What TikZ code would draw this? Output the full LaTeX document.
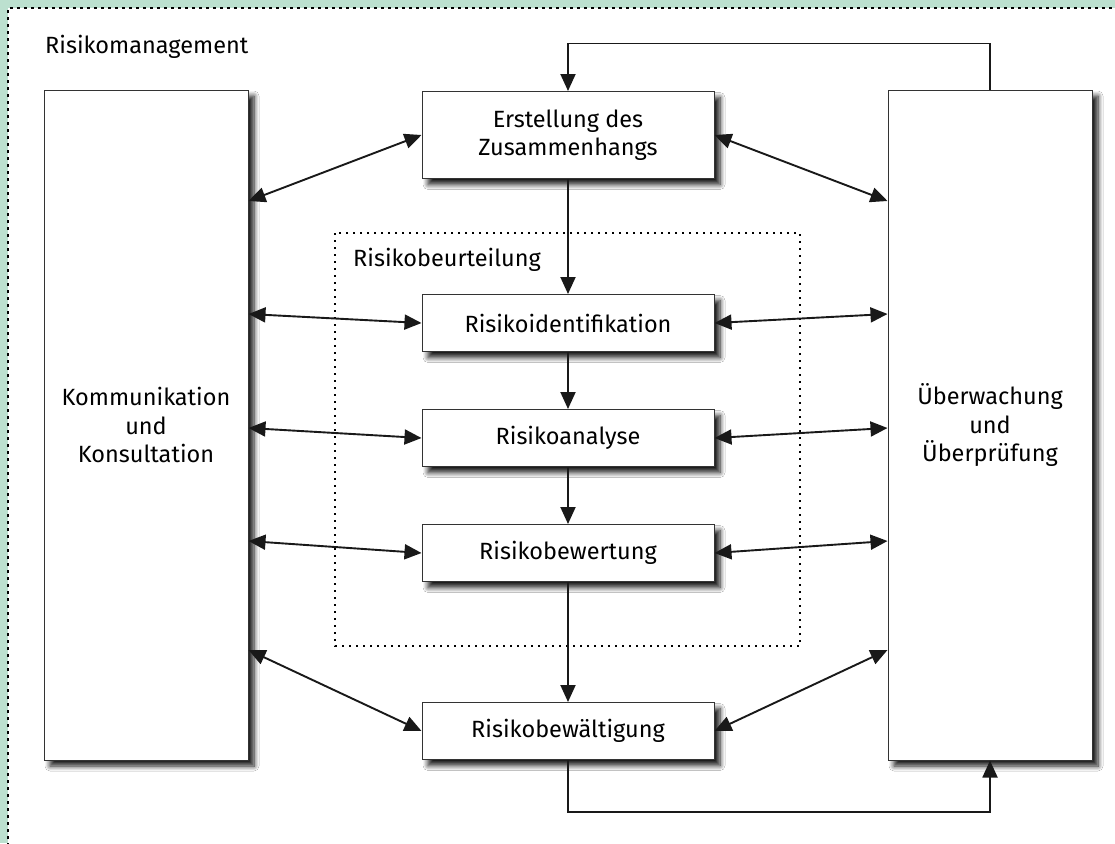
\documentclass[tikz,border=0pt]{standalone}
\usepackage{fontspec}
\setmainfont{Fira Sans}
\usetikzlibrary{arrows.meta, shadows.blur}

\definecolor{framegreen}{RGB}{188,224,207}

\tikzset{
  box/.style={draw=black!80, line width=1pt, fill=white, align=center,
    blur shadow={shadow xshift=6pt, shadow yshift=-6pt, shadow blur radius=5pt,
      shadow opacity=90, shadow blur steps=8}},
  stage/.style={box, minimum width=292pt, minimum height=57pt},
  pillar/.style={box, minimum width=204pt, minimum height=670pt},
  flow/.style={line width=1.9pt, black!90, -{Triangle[length=17pt, width=15pt]}},
  link/.style={flow, {Triangle[length=17pt, width=15pt]}-{Triangle[length=17pt, width=15pt]}},
}

\begin{document}
\begin{tikzpicture}[x=1pt, y=-1pt, font=\fontsize{23.5}{28.5}\selectfont]
  \useasboundingbox (0,0) rectangle (1115,843);
  \fill[framegreen] (0,0) rectangle (1115,843);
  \fill[white] (8,8) rectangle (1125,853);
  \draw[line width=2.6pt, dash pattern=on 3pt off 4pt] (8,853) -- (8,8) -- (1125,8);
  \node[anchor=west, inner sep=0pt] (management) at (45,47) {Risikomanagement};

  % Risikobeurteilung
  \draw[line width=1.4pt, dash pattern=on 2pt off 5pt] (335,233) rectangle (800,646);
  \node[anchor=west, inner sep=0pt] (beurteilung) at (353,260) {Risikobeurteilung};

  \node[stage, minimum height=87pt] (kontext) at (568,135) {Erstellung des\\Zusammenhangs};
  \node[stage] (identifikation) at (568,323) {Risikoidentifikation};
  \node[stage] (analyse) at (568,438) {Risikoanalyse};
  \node[stage] (bewertung) at (568,553) {Risikobewertung};
  \node[stage] (bewaeltigung) at (568,731) {Risikobewältigung};
  \node[pillar] (kommunikation) at (146,425) {Kommunikation\\und\\Konsultation};
  \node[pillar] (ueberwachung) at (990,425) {Überwachung\\und\\Überprüfung};

  \foreach \a/\b in {kontext/identifikation, identifikation/analyse,
      analyse/bewertung, bewertung/bewaeltigung}
    \draw[flow] (\a) -- (\b);

  \foreach \n/\s in {kontext/224, identifikation/111, analyse/-3,
      bewertung/-116, bewaeltigung/-225} {
    \draw[link] ([yshift=\s pt]kommunikation.east) -- (\n.west);
    \draw[link] (\n.east) -- ([yshift=\s pt]ueberwachung.west);
  }

  % Rueckkopplung
  \draw[flow] (ueberwachung.north) -- ++(0,-46) -| (kontext.north);
  \draw[flow] (bewaeltigung.south) -- ++(0,52) -| (ueberwachung.south);
\end{tikzpicture}
\end{document}
